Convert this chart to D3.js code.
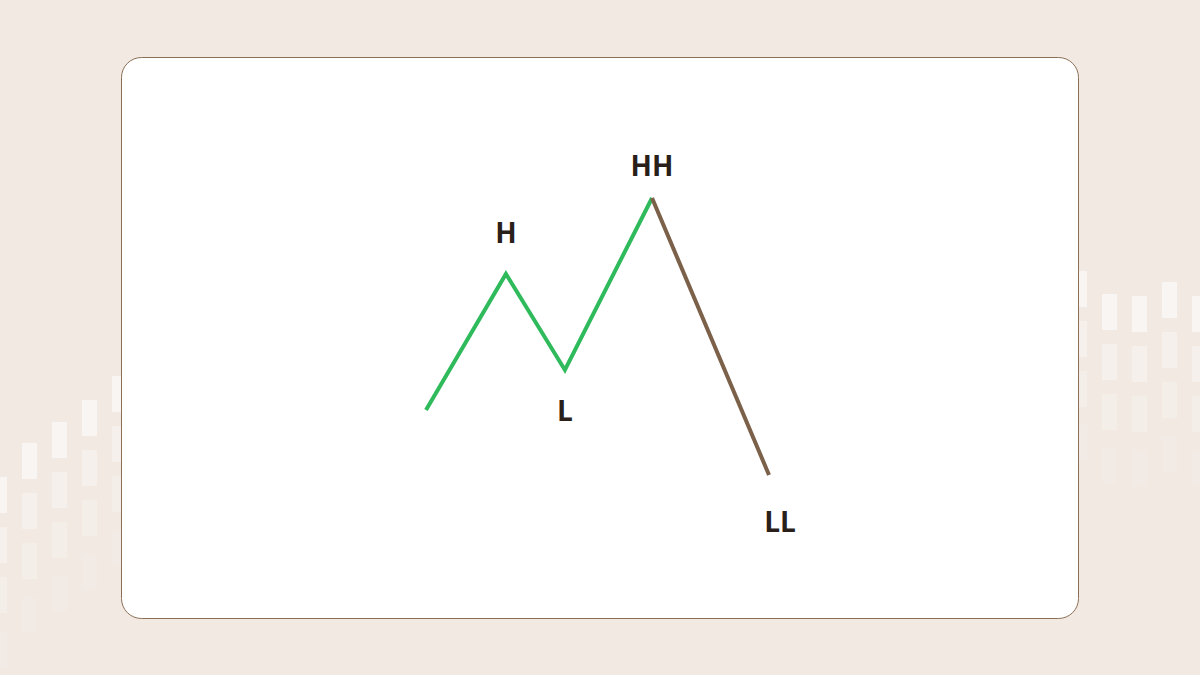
<!DOCTYPE html>
<html>
<head>
<meta charset="utf-8">
<script src="https://cdn.jsdelivr.net/npm/d3@7"></script>
<style>
html,body{margin:0;padding:0;background:#f1e9e2;}
svg{display:block;}
</style>
</head>
<body>
<svg id="chart" width="1200" height="675"></svg>
<script>
// Swing points (abstract time units / price units)
const labels = ["", "H", "L", "HH", "LL"];
const times  = [0, 2.33, 4.05, 6.59, 10];
const prices = [23.5, 72.6, 37.9, 100, 0];
// trend of each segment: first three up (green), last one down (brown)
const segmentTrend = ["up", "up", "up", "down"];

// decorative background columns
const decoLeftCols  = [-8, 22, 52, 82, 112];
const decoLeftTops  = [477, 443, 422, 400, 376];
const decoRightCols = [1072, 1102, 1132, 1162, 1192];
const decoRightTops = [271, 294, 296, 282, 296];
const decoOpac = [0.55, 0.35, 0.22, 0.12];

const svg = d3.select("#chart");
const W = 1200, H = 675;

svg.append("rect").attr("width", W).attr("height", H).attr("fill", "#f1e9e2");

const deco = svg.append("g");
function drawCols(cols, tops) {
  cols.forEach((cx, i) => {
    decoOpac.forEach((op, j) => {
      const yy = tops[i] + (j < 3 ? j * 50 : 154);
      deco.append("rect")
        .attr("x", cx).attr("y", yy)
        .attr("width", 15).attr("height", 36)
        .attr("fill", "#ffffff").attr("opacity", op);
    });
  });
}
drawCols(decoLeftCols, decoLeftTops);
drawCols(decoRightCols, decoRightTops);

// card
svg.append("rect")
  .attr("x", 121.5).attr("y", 57.5)
  .attr("width", 957).attr("height", 561)
  .attr("rx", 20).attr("ry", 20)
  .attr("fill", "#ffffff")
  .attr("stroke", "#8b6f55").attr("stroke-width", 1);

const x = d3.scaleLinear().domain([0, 10]).range([426, 769]);
const y = d3.scaleLinear().domain([0, 100]).range([475, 198]);

const pts = times.map((t, i) => ({t, p: prices[i], label: labels[i]}));
const colors = {up: "#2fba5c", down: "#7b6149"};
const line = d3.line().x(d => x(d.t)).y(d => y(d.p));
const g = svg.append("g");

// group consecutive segments with same trend into one path
let runs = [];
segmentTrend.forEach((tr, i) => {
  if (runs.length && runs[runs.length - 1].tr === tr) runs[runs.length - 1].end = i + 1;
  else runs.push({tr, start: i, end: i + 1});
});
runs.forEach(r => {
  g.append("path")
    .datum(pts.slice(r.start, r.end + 1))
    .attr("d", line)
    .attr("fill", "none")
    .attr("stroke", colors[r.tr])
    .attr("stroke-width", 4)
    .attr("stroke-linejoin", "miter");
});

const labelOffsets = {H: [0, -31], L: [0, 51], HH: [0, -22], LL: [11, 57]};
g.selectAll("text.lbl")
  .data(pts.filter(d => d.label))
  .join("text")
  .attr("class", "lbl")
  .attr("x", d => x(d.t) + labelOffsets[d.label][0])
  .attr("y", d => y(d.p) + labelOffsets[d.label][1])
  .attr("text-anchor", "middle")
  .attr("font-family", "'Open Sans', sans-serif")
  .attr("font-weight", 700)
  .attr("font-size", 28)
  .attr("fill", "#2a201a")
  .text(d => d.label);
</script>
</body>
</html>
